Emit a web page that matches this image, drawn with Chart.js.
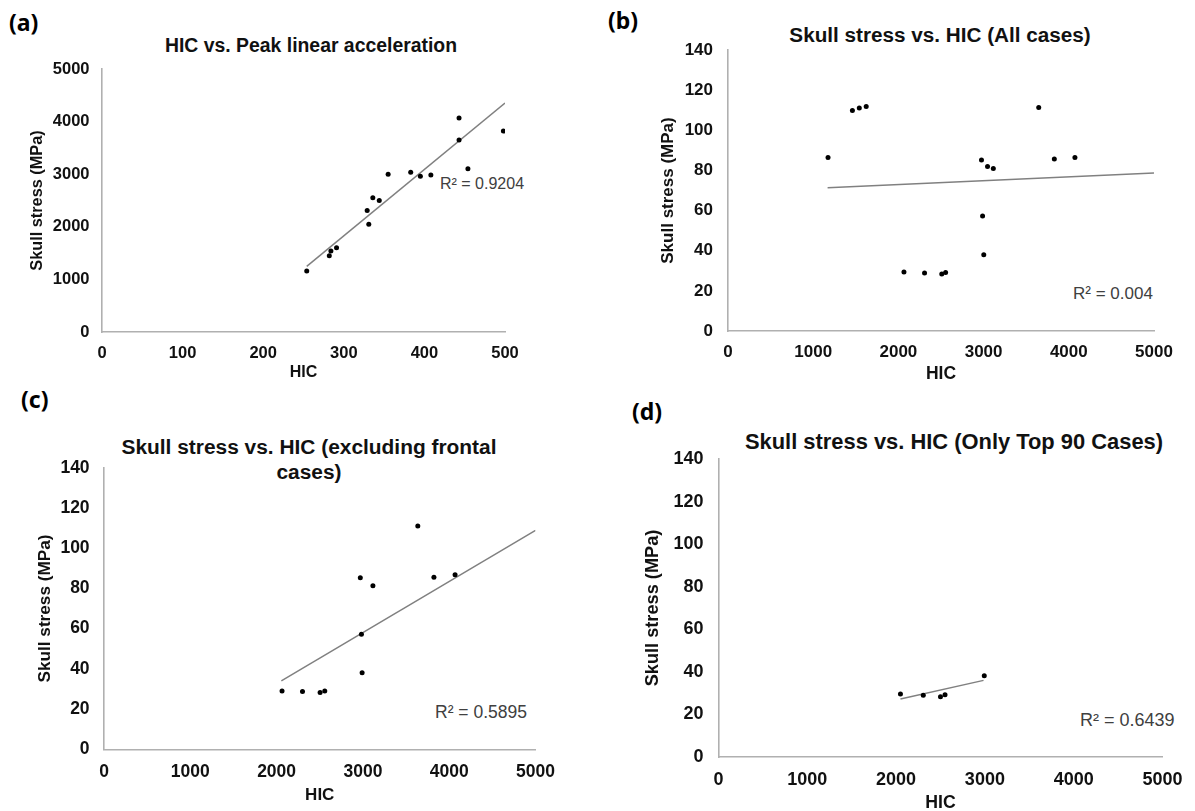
<!DOCTYPE html>
<html lang="en">
<head>
<meta charset="UTF-8">
<title>Skull stress vs. HIC</title>
<script src="https://cdn.jsdelivr.net/npm/chart.js"></script>
<style>
  html, body { margin: 0; padding: 0; background: #fff; overflow: hidden; }
  body { width: 1195px; height: 811px; position: relative; font-family: 'Liberation Sans', Arial, sans-serif; }
  canvas { position: absolute; }
  .lbl { position: absolute; font-family: 'Noto Sans', 'Open Sans', sans-serif; font-weight: 700; font-size: 23px; line-height: 23px; color: #000; }
  .ttl { position: absolute; width: 700px; text-align: center; font-weight: 700; color: #111; white-space: nowrap; }
  .r2 { position: absolute; color: #404040; white-space: nowrap; }
</style>
</head>
<body>
  <!-- panel letters -->
  <div class="lbl" style="left:9px; top:11px;">(a)</div>
  <div class="lbl" style="left:608px; top:9px;">(b)</div>
  <div class="lbl" style="left:21px; top:388px;">(c)</div>
  <div class="lbl" style="left:632px; top:400px;">(d)</div>

  <!-- titles -->
  <div class="ttl" style="left:-39px; top:33px; font-size:19.4px; line-height:24px;">HIC vs. Peak linear acceleration</div>
  <div class="ttl" style="left:590px; top:22px; font-size:20.7px; line-height:26px;">Skull stress vs. HIC (All cases)</div>
  <div class="ttl" style="left:-41px; top:434px; font-size:20.9px; line-height:25px;">Skull stress vs. HIC (excluding frontal<br>cases)</div>
  <div class="ttl" style="left:604px; top:428px; font-size:21.9px; line-height:27px;">Skull stress vs. HIC (Only Top 90 Cases)</div>

  <!-- R squared labels -->
  <div class="r2" style="left:440px; top:174px; font-size:16px; line-height:20px;">R² = 0.9204</div>
  <div class="r2" style="left:1073px; top:283px; font-size:17px; line-height:22px;">R² = 0.004</div>
  <div class="r2" style="left:435px; top:701px; font-size:17.5px; line-height:22px;">R² = 0.5895</div>
  <div class="r2" style="left:1080px; top:709px; font-size:18px; line-height:23px;">R² = 0.6439</div>

  <canvas id="chartA" width="600" height="350" style="left:0px; top:40px;"></canvas>
  <canvas id="chartB" width="595" height="380" style="left:600px; top:15px;"></canvas>
  <canvas id="chartC" width="600" height="376" style="left:0px; top:435px;"></canvas>
  <canvas id="chartD" width="595" height="395" style="left:600px; top:425px;"></canvas>

<script>
// (a) HIC vs. peak linear acceleration
const hicA    = [254, 282, 284, 291, 329, 331, 336, 344, 355, 383, 395, 408, 443, 443, 454, 498];
const stressA = [1160, 1450, 1540, 1600, 2310, 2050, 2550, 2500, 3000, 3035, 2960, 2985, 4070, 3650, 3105, 3820];
const trendHicA    = [254, 500];
const trendStressA = [1248, 4353];

// (b) all cases
const hicB    = [1174, 1460, 1541, 1622, 2065, 2307, 2509, 2554, 2975, 2988, 3002, 3046, 3114, 3647, 3830, 4072];
const stressB = [86.5, 109.9, 111.1, 111.9, 29.4, 28.9, 28.4, 29.2, 85.2, 57.3, 38.0, 82.0, 81.0, 111.3, 85.7, 86.5];
const trendHicB    = [1169, 5000];
const trendStressB = [71.4, 78.7];

// (c) excluding frontal cases
const hicC    = [2063, 2300, 2504, 2558, 2970, 2983, 2991, 3116, 3636, 3823, 4068];
const stressC = [29.0, 28.7, 28.3, 29.0, 85.3, 57.2, 38.1, 81.3, 111.0, 85.5, 86.8];
const trendHicC    = [2055, 5000];
const trendStressC = [34.0, 108.8];

// (d) only top 90 cases
const hicD    = [2049, 2306, 2500, 2551, 2993];
const stressD = [29.6, 29.0, 28.3, 29.3, 38.2];
const trendHicD    = [2049, 2985];
const trendStressD = [27.2, 36.0];

// tick labels
const ticksHicA    = [0, 100, 200, 300, 400, 500];
const ticksStressA = [0, 1000, 2000, 3000, 4000, 5000];
const ticksHic     = [0, 1000, 2000, 3000, 4000, 5000];
const ticksStress  = [0, 20, 40, 60, 80, 100, 120, 140];

const FONT = "'Liberation Sans', Arial, sans-serif";

function pts(xs, ys) {
    return xs.map((x, i) => ({ x: x, y: ys[i] }));
}

function makePanel(id, p) {
    return new Chart(document.getElementById(id), {
        type: 'scatter',
        data: {
            datasets: [
                { data: pts(p.x, p.y), backgroundColor: '#000', borderWidth: 0, pointRadius: 2.5, pointHoverRadius: 2.5 },
                { type: 'line', data: pts(p.tx, p.ty), borderColor: '#808080', borderWidth: 1.5, pointRadius: 0, fill: false, tension: 0 }
            ]
        },
        options: {
            responsive: false,
            animation: false,
            events: [],
            layout: { padding: { left: 0, top: p.top, right: p.right, bottom: 0 } },
            plugins: { legend: { display: false }, tooltip: { enabled: false } },
            scales: {
                x: {
                    type: 'linear', min: 0, max: p.xTicks[p.xTicks.length - 1],
                    grid: { display: false, drawTicks: false },
                    border: { display: true, color: '#b0b0b0', width: 1.6 },
                    afterBuildTicks: s => { s.ticks = p.xTicks.map(v => ({ value: v })); },
                    afterFit: s => { s.height = p.xh; },
                    ticks: { color: '#111', padding: p.xpad, maxRotation: 0, autoSkip: false,
                             font: { family: FONT, weight: 'bold', size: p.tick }, callback: v => String(v) },
                    title: { display: true, text: 'HIC', color: '#111',
                             font: { family: FONT, weight: 'bold', size: p.xt }, padding: { top: 0, bottom: p.xtb } }
                },
                y: {
                    type: 'linear', min: 0, max: p.yTicks[p.yTicks.length - 1],
                    grid: { display: false, drawTicks: false },
                    border: { display: true, color: '#b0b0b0', width: 1.6 },
                    afterBuildTicks: s => { s.ticks = p.yTicks.map(v => ({ value: v })); },
                    afterFit: s => { s.width = p.yw; },
                    ticks: { color: '#111', padding: p.ypad, autoSkip: false,
                             font: { family: FONT, weight: 'bold', size: p.tick }, callback: v => String(v) },
                    title: { display: true, text: 'Skull stress (MPa)', color: '#111',
                             font: { family: FONT, weight: 'bold', size: p.yt }, padding: { top: p.ytp, bottom: 0 } }
                }
            }
        }
    });
}

makePanel('chartA', { x: hicA, y: stressA, tx: trendHicA, ty: trendStressA, xTicks: ticksHicA, yTicks: ticksStressA,
    top: 29, right: 95, yw: 102, xh: 58, xpad: 12, ypad: 12.5, tick: 16.5, xt: 16, xtb: 7.4, yt: 16.3, ytp: 27.9 });
makePanel('chartB', { x: hicB, y: stressB, tx: trendHicB, ty: trendStressB, xTicks: ticksHic, yTicks: ticksStress,
    top: 35, right: 41, yw: 128, xh: 64, xpad: 11, ypad: 15, tick: 17, xt: 17.5, xtb: 10.5, yt: 17, ytp: 57.7 });
makePanel('chartC', { x: hicC, y: stressC, tx: trendHicC, ty: trendStressC, xTicks: ticksHic, yTicks: ticksStress,
    top: 32.7, right: 64.5, yw: 104, xh: 61.7, xpad: 12.5, ypad: 14.4, tick: 17.5, xt: 17, xtb: 5.8, yt: 17.2, ytp: 34.6 });
makePanel('chartD', { x: hicD, y: stressD, tx: trendHicD, ty: trendStressD, xTicks: ticksHic, yTicks: ticksStress,
    top: 34, right: 22.9, yw: 118.5, xh: 63, xpad: 12.5, ypad: 15, tick: 18, xt: 17.7, xtb: 6.4, yt: 18.2, ytp: 42.5 });
</script>
</body>
</html>
